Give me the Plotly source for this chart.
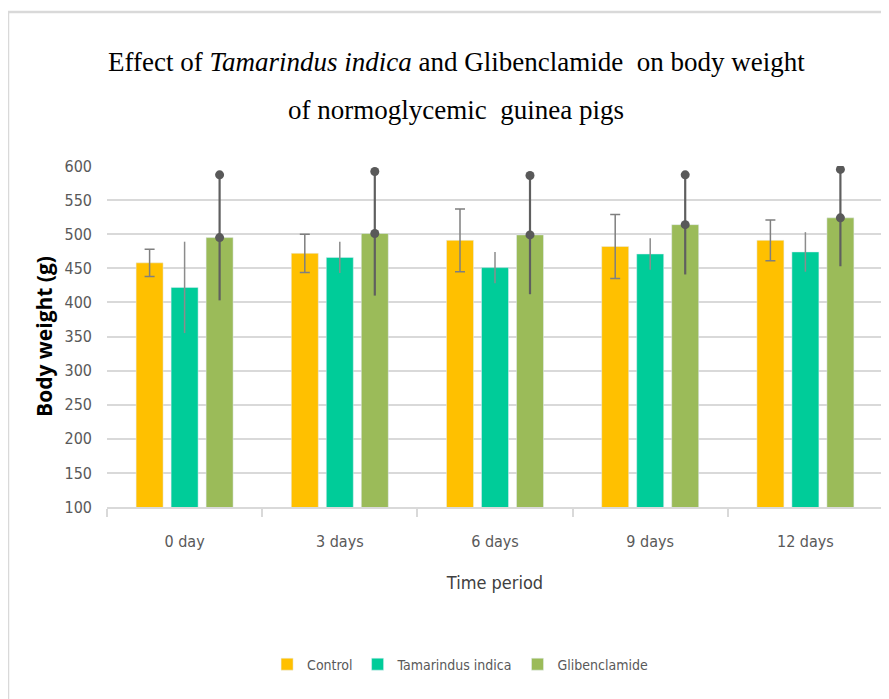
import plotly.graph_objects as go

categories = ["0 day", "3 days", "6 days", "9 days", "12 days"]
series_names = ["Control", "Tamarindus indica", "Glibenclamide"]
control = [458, 472, 491, 482, 491]
control_err = [20, 28, 46, 47, 30]
tamarind = [422, 466, 451, 471, 474]
tamarind_err = [67, 23, 23, 23, 29]
gliben = [495, 501, 499, 514, 524]
gliben_err = [92, 91, 87, 73, 71]
colors = ["#FFC000", "#00CC99", "#9BBB59"]

x = list(range(len(categories)))
bar_w = 0.174
step = 0.2255

NARROW = "Liberation Sans Narrow, Arial Narrow, DejaVu Sans Condensed, sans-serif"

fig = go.Figure()

fig.add_trace(go.Bar(
    x=x, y=control, name=series_names[0], marker_color=colors[0],
    width=bar_w, offset=-step - bar_w / 2,
    error_y=dict(type="data", array=control_err, color="#7F7F7F", thickness=1.5, width=5),
))
fig.add_trace(go.Bar(
    x=x, y=tamarind, name=series_names[1], marker_color=colors[1],
    width=bar_w, offset=-bar_w / 2,
    error_y=dict(type="data", array=tamarind_err, color="#8C8C8C", thickness=1.5, width=0),
))
fig.add_trace(go.Bar(
    x=x, y=gliben, name=series_names[2], marker_color=colors[2],
    width=bar_w, offset=step - bar_w / 2,
    error_y=dict(type="data", array=gliben_err, color="#5F5F5F", thickness=2.2, width=0),
))
# dots at mean and upper end of Glibenclamide error bars
gx = [xi + step for xi in x]
fig.add_trace(go.Scatter(
    x=gx + gx, y=gliben + [g + e for g, e in zip(gliben, gliben_err)],
    mode="markers", marker=dict(color="#595959", size=9),
    showlegend=False, hoverinfo="skip",
))

# page body has an 8px margin: plot area spans x 107..883, y 166..507 on the page
fig.update_layout(
    width=889, height=699,
    margin=dict(l=99, r=14, t=158, b=200),
    paper_bgcolor="white", plot_bgcolor="white",
    showlegend=True,
    legend=dict(orientation="h", x=0.455, xanchor="center", y=-0.462, yanchor="middle",
                font=dict(family=NARROW, size=14, color="#595959"),
                itemwidth=30, traceorder="normal"),
    bargap=0.38,
)

fig.update_xaxes(
    range=[-0.5, 4.5], tickmode="array", tickvals=x, ticktext=categories,
    ticks="", showgrid=False, zeroline=False,
    showline=True, linecolor="#D9D9D9", linewidth=1.5,
    tickfont=dict(family=NARROW, size=16, color="#595959"),
    ticklabelstandoff=19,
    title=dict(text="Time period", font=dict(family=NARROW, size=18, color="#404040"), standoff=26),
    minor=dict(tickmode="array", tickvals=[-0.5, 0.5, 1.5, 2.5, 3.5, 4.5],
               ticks="outside", ticklen=8, tickcolor="#D9D9D9", tickwidth=1.5, showgrid=False),
)
fig.update_yaxes(
    range=[100, 600], dtick=50, tick0=100,
    showgrid=True, gridcolor="#D9D9D9", gridwidth=1.5, zeroline=False, showline=False,
    tickfont=dict(family=NARROW, size=16, color="#595959"),
    ticklabelstandoff=14,
    title=dict(text="<b>Body weight (g)</b>", font=dict(family="Open Sans, sans-serif", size=21, color="#000000"), standoff=6),
)

TITLE_FONT = dict(family="Liberation Serif, Times New Roman, serif", size=27, color="#000000")
fig.add_annotation(text="Effect of <i>Tamarindus indica</i> and Glibenclamide  on body weight",
                   xref="paper", yref="paper", x=0.45, y=(507 - 62) / 341,
                   xanchor="center", yanchor="middle", showarrow=False, font=TITLE_FONT)
fig.add_annotation(text="of normoglycemic  guinea pigs",
                   xref="paper", yref="paper", x=0.45, y=(507 - 110) / 341,
                   xanchor="center", yanchor="middle", showarrow=False, font=TITLE_FONT)

# outer frame (top and left edges visible)
fig.add_shape(type="rect", xref="paper", yref="paper",
              x0=(8 - 107) / 776, x1=1.2, y0=-1.0, y1=(507 - 12) / 341,
              line=dict(color="#D9D9D9", width=2.5), layer="below")

fig.write_html("out.html")
